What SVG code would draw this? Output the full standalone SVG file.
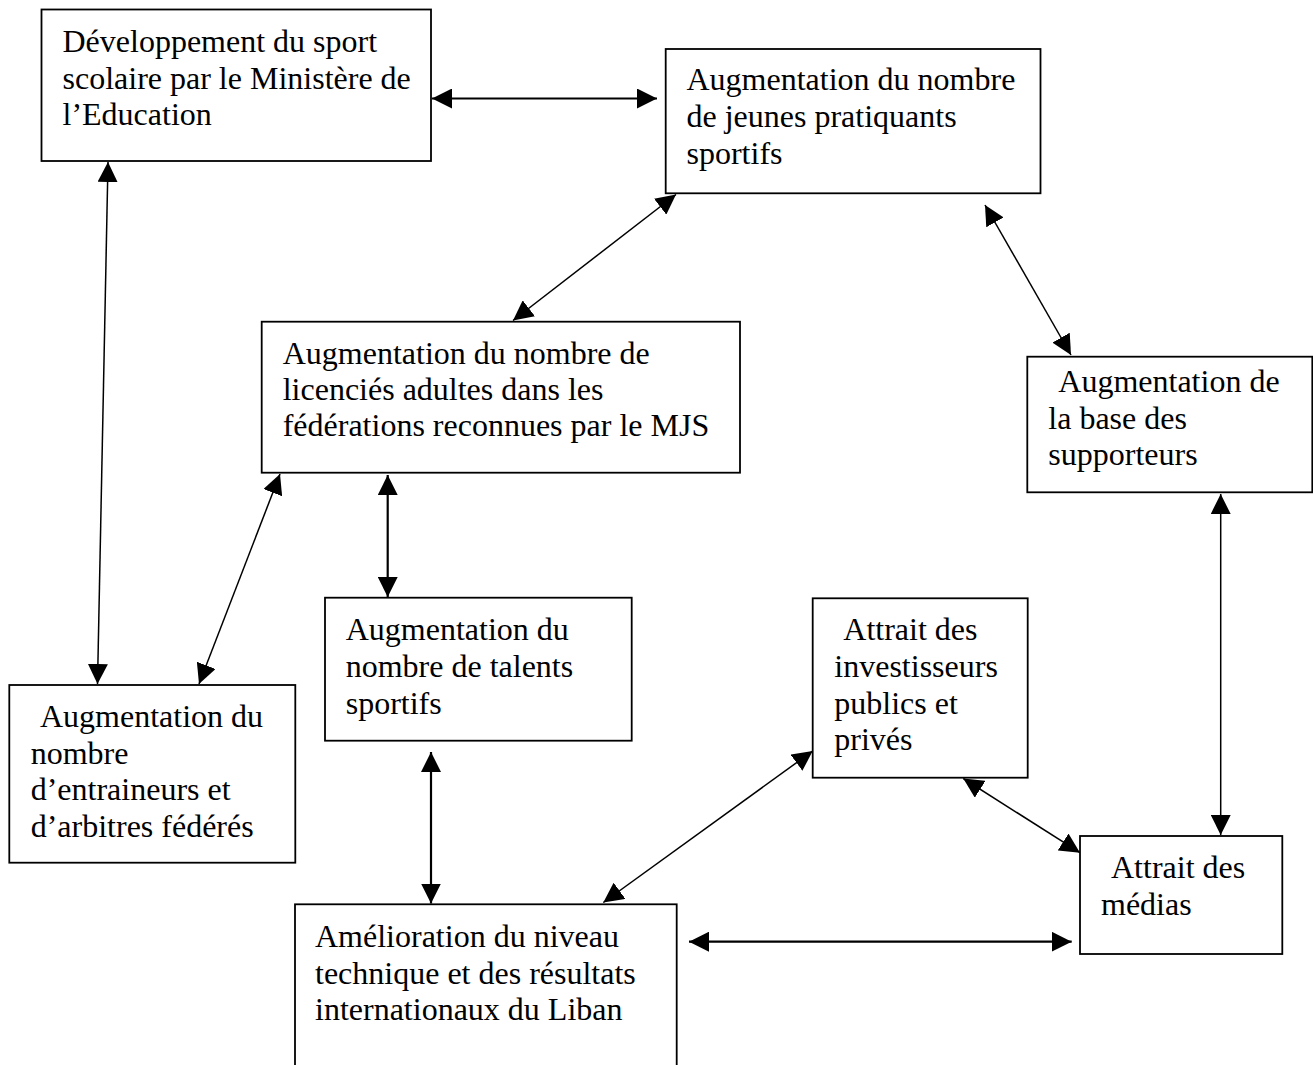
<svg xmlns="http://www.w3.org/2000/svg" width="1313" height="1065" viewBox="0 0 1313 1065">
<style>
.box{fill:#fff;stroke:#000;stroke-width:1.8}
.t{font-family:"Liberation Serif","Times New Roman",serif;font-size:32px;fill:#000}
.c{stroke:#000;stroke-width:1.5;fill:none;marker-start:url(#ah);marker-end:url(#ah)}
.c2{stroke-width:2.2}
</style>
<defs>
<marker id="ah" markerUnits="userSpaceOnUse" viewBox="0 0 20 20" markerWidth="20" markerHeight="20" refX="20" refY="10" orient="auto-start-reverse">
<path d="M0,0 L20,10 L0,20 z" fill="#000"/>
</marker>
</defs>
<rect width="1313" height="1065" fill="#fff"/>
<g id="connectors">
<line class="c c2" x1="432" y1="98.5" x2="657" y2="98.5"/>
<line class="c" x1="108" y1="162" x2="97.5" y2="684"/>
<line class="c" x1="676" y1="194.5" x2="513" y2="320.5"/>
<line class="c" x1="985" y1="205" x2="1071" y2="355"/>
<line class="c" x1="280" y1="474" x2="199" y2="684"/>
<line class="c c2" x1="387.7" y1="475" x2="387.7" y2="597"/>
<line class="c" x1="1220.7" y1="494" x2="1220.7" y2="835"/>
<line class="c c2" x1="431" y1="752" x2="431" y2="903.5"/>
<line class="c" x1="812.7" y1="751" x2="603.3" y2="902.5"/>
<line class="c" x1="963.3" y1="778.5" x2="1080" y2="852.7"/>
<line class="c c2" x1="689" y1="941.7" x2="1071.7" y2="941.7"/>
</g>
<g id="n1">
<rect class="box" x="41.5" y="9.5" width="389.5" height="151.5"/>
<text class="t" x="62.5" y="52">Développement du sport</text>
<text class="t" x="62.5" y="88.5">scolaire par le Ministère de</text>
<text class="t" x="62.5" y="125">l’Education</text>
</g>
<g id="n2">
<rect class="box" x="665.7" y="49" width="374.8" height="144.3"/>
<text class="t" x="686.5" y="90.3">Augmentation du nombre</text>
<text class="t" x="686.5" y="127">de jeunes pratiquants</text>
<text class="t" x="686.5" y="163.7">sportifs</text>
</g>
<g id="n3">
<rect class="box" x="261.7" y="321.7" width="478.3" height="151"/>
<text class="t" x="282.7" y="363.7">Augmentation du nombre de</text>
<text class="t" x="282.7" y="400">licenciés adultes dans les</text>
<text class="t" x="282.7" y="436.3">fédérations reconnues par le MJS</text>
</g>
<g id="n4">
<rect class="box" x="1027.3" y="356.7" width="285" height="135.6"/>
<text class="t" x="1058.3" y="392">Augmentation de</text>
<text class="t" x="1048.3" y="428.7">la base des</text>
<text class="t" x="1048.3" y="465.3">supporteurs</text>
</g>
<g id="n5">
<rect class="box" x="325" y="597.7" width="306.7" height="143"/>
<text class="t" x="345.7" y="640">Augmentation du</text>
<text class="t" x="345.7" y="677">nombre de talents</text>
<text class="t" x="345.7" y="713.7">sportifs</text>
</g>
<g id="n6">
<rect class="box" x="812.7" y="598.3" width="215" height="179.4"/>
<text class="t" x="843.3" y="640.3">Attrait des</text>
<text class="t" x="834.3" y="677">investisseurs</text>
<text class="t" x="834.3" y="713.7">publics et</text>
<text class="t" x="834.3" y="750.3">privés</text>
</g>
<g id="n7">
<rect class="box" x="9.3" y="685" width="286" height="177.7"/>
<text class="t" x="40" y="727">Augmentation du</text>
<text class="t" x="30.7" y="763.7">nombre</text>
<text class="t" x="30.7" y="800.3">d’entraineurs et</text>
<text class="t" x="30.7" y="837">d’arbitres fédérés</text>
</g>
<g id="n8">
<rect class="box" x="1080" y="836" width="202.3" height="118"/>
<text class="t" x="1111" y="878">Attrait des</text>
<text class="t" x="1101" y="914.7">médias</text>
</g>
<g id="n9">
<rect class="box" x="295" y="904.3" width="381.7" height="180"/>
<text class="t" x="315" y="947">Amélioration du niveau</text>
<text class="t" x="315" y="983.7">technique et des résultats</text>
<text class="t" x="315" y="1020.3">internationaux du Liban</text>
</g>
</svg>
